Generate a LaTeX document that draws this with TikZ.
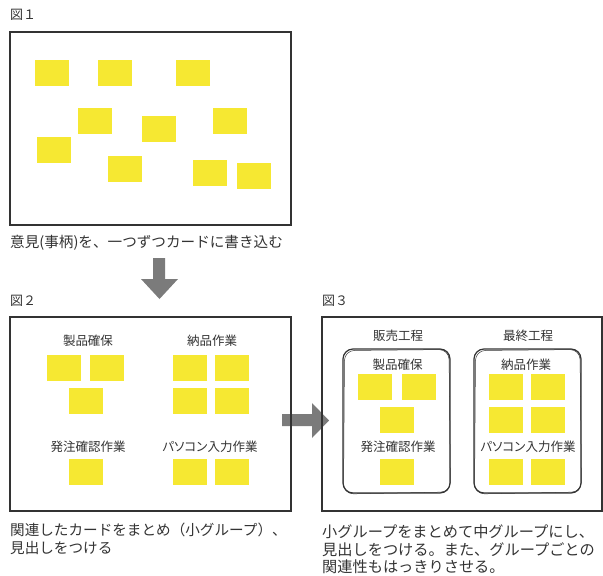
\documentclass[tikz,border=0pt]{standalone}
\usepackage{fontspec}
\setmainfont{Noto Sans CJK JP}
\newfontfamily\paltfont[RawFeature=+palt]{Noto Sans CJK JP}
\definecolor{cardyellow}{HTML}{F6E832}
\definecolor{framegray}{HTML}{333333}
\definecolor{textgray}{HTML}{333333}
\definecolor{arrowgray}{HTML}{7B7B7B}
\begin{document}
\begin{tikzpicture}[x=1pt,y=-1pt,
  card/.style={fill=cardyellow, draw=none, minimum width=34pt, minimum height=26pt, inner sep=0},
  frame/.style={draw=framegray, line width=1.3pt},
  sketch/.style={draw=framegray, line width=1.2pt, rounded corners=10pt},
  sketchthin/.style={draw=framegray, line width=0.5pt, rounded corners=10pt},
  lbl/.style={font=\fontsize{12.5}{14}\selectfont, text=textgray, inner sep=0},
  figlabel/.style={font=\fontsize{13}{15}\selectfont, text=textgray, inner sep=0, anchor=west},
  captext/.style={font=\fontsize{14.6}{16}\selectfont, text=textgray, inner sep=0, anchor=west},
  captextb/.style={font=\fontsize{15.2}{16}\selectfont, text=textgray, inner sep=0, anchor=west},
  blockarrow/.style={fill=arrowgray, draw=none}]
\useasboundingbox (0,0) rectangle (603,576);
\newcommand\mycard[3]{\node[card] (#1) at (#2,#3) {};}

% arrows (behind frames)
\fill[blockarrow] (153,258) -- (165,258) -- (165,279) -- (178,279) -- (159.5,299) -- (141,279) -- (153,279) -- cycle;
\fill[blockarrow] (282,414) -- (312,414) -- (312,403) -- (329,420.5) -- (312,438) -- (312,426) -- (282,426) -- cycle;

% Figure 1
\node[figlabel] (t1) at (10,15) {図１};
\draw[frame] (10,32) rectangle (291,225);
\mycard{a1}{51.5}{73}
\mycard{a2}{114.5}{73}
\mycard{a3}{193}{73}
\mycard{a4}{95}{121}
\mycard{a5}{159}{128.5}
\mycard{a6}{229.5}{121}
\mycard{a7}{54}{150}
\mycard{a8}{124.5}{169}
\mycard{a9}{210}{173}
\mycard{a10}{253.5}{176}
\node[captext] (c1) at (10,243) {意見(事柄)を、一つずつカードに書き込む};

% Figure 2
\node[figlabel] (t2) at (10,301) {図２};
\draw[frame] (10,317) rectangle (291,511);
\node[lbl] (g1) at (88,341) {製品確保};
\mycard{b1}{63.5}{368}
\mycard{b2}{107}{368}
\mycard{b3}{85.5}{401}
\node[lbl] (g2) at (212,341) {納品作業};
\mycard{b4}{190}{368}
\mycard{b5}{231.5}{368}
\mycard{b6}{190}{401}
\mycard{b7}{231.5}{401}
\node[lbl] (g3) at (88,447) {発注確認作業};
\mycard{b8}{85.5}{472}
\node[lbl] (g4) at (210,447) {\paltfont パソコン入力作業};
\mycard{b9}{190}{472}
\mycard{b10}{231.5}{472}
\node[captext] (c2a) at (10,530) {関連したカードをまとめ（小グループ）、};
\node[captext] (c2b) at (10,548) {見出しをつける};

% Figure 3
\node[figlabel] (t3) at (322,301) {図３};
\draw[frame] (322,317) rectangle (602,511);
\node[lbl] (h1) at (398,336) {販売工程};
\node[lbl] (h2) at (528,336) {最終工程};
\draw[sketch] (343,349) rectangle (450,493);
\draw[sketchthin] (344.5,350.5) -- (449,349.5) -- (450.5,492) -- (343.5,494) -- cycle;
\draw[sketch] (474,349) rectangle (581,493);
\draw[sketchthin] (475.5,350.5) -- (580,349.5) -- (581.5,492) -- (474.5,494) -- cycle;
\node[lbl] (k1) at (397.5,365) {製品確保};
\mycard{d1}{375}{387}
\mycard{d2}{419}{387}
\mycard{d3}{397}{420}
\node[lbl] (k2) at (398,447) {発注確認作業};
\mycard{d4}{397}{472}
\node[lbl] (k3) at (526,365) {納品作業};
\mycard{d5}{506}{387}
\mycard{d6}{548}{387}
\mycard{d7}{506}{420}
\mycard{d8}{548}{420}
\node[lbl] (k4) at (528,447) {\paltfont パソコン入力作業};
\mycard{d9}{506}{472}
\mycard{d10}{548}{472}
\node[captextb] (c3a) at (322,532) {小グループをまとめて中グループにし、};
\node[captextb] (c3b) at (322,550) {見出しをつける。また、グループごとの};
\node[captextb] (c3c) at (322,567) {関連性もはっきりさせる。};
\end{tikzpicture}
\end{document}
